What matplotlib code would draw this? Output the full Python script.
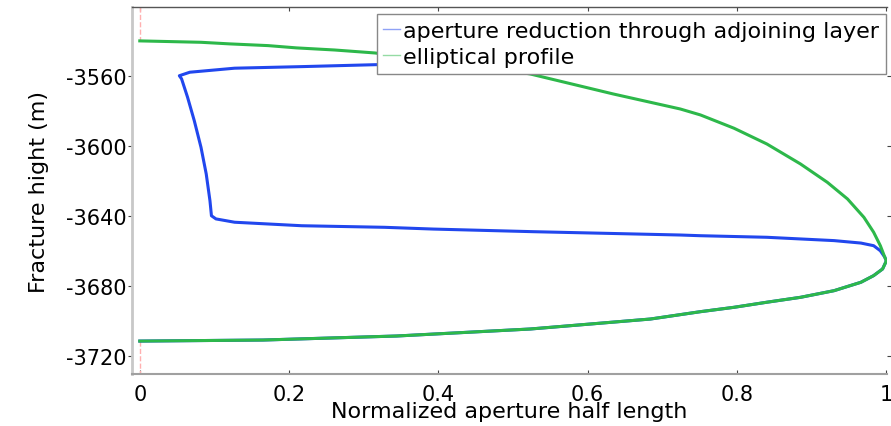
import matplotlib
matplotlib.use('Agg')
import matplotlib.pyplot as plt
from matplotlib.ticker import FixedLocator, FixedFormatter

plt.rcParams['font.family'] = 'DejaVu Sans'
plt.rcParams['axes.unicode_minus'] = False

# elliptical profile: half length vs depth
ell_x = [0.0, 0.082, 0.120, 0.172, 0.210, 0.261, 0.315, 0.375, 0.442, 0.523,
         0.634, 0.724, 0.751, 0.796, 0.840, 0.885, 0.921, 0.948, 0.970, 0.983,
         0.992, 0.998, 1.0,
         0.995, 0.983, 0.966, 0.930, 0.885, 0.840, 0.796, 0.751, 0.684, 0.523,
         0.344, 0.165, 0.0]
ell_y = [-3539.8, -3540.6, -3541.5, -3542.5, -3543.8, -3545.0, -3546.7, -3550.1, -3553.0, -3558.7,
         -3570.1, -3578.7, -3582.1, -3589.7, -3598.7, -3610.1, -3620.6, -3630.1, -3640.6, -3649.1,
         -3656.8, -3663.4, -3665.5,
         -3670.1, -3673.9, -3677.7, -3682.5, -3686.3, -3689.1, -3692.0, -3694.5, -3698.7, -3704.4,
         -3708.4, -3710.7, -3711.3]

# aperture reduction through adjoining layer (upper start hidden under the legend)
red_x = [0.600, 0.315, 0.217, 0.127, 0.067, 0.053, 0.056, 0.064, 0.073, 0.082,
         0.089, 0.094, 0.096, 0.102, 0.127, 0.217, 0.328, 0.393, 0.527, 0.724,
         0.751, 0.840, 0.930, 0.966, 0.983, 0.992, 0.998, 1.0,
         0.995, 0.983, 0.966, 0.930, 0.885, 0.840, 0.796, 0.751, 0.684, 0.523,
         0.344, 0.165, 0.0]
red_y = [-3551.8, -3553.4, -3554.5, -3555.4, -3557.7, -3559.7, -3561.5, -3572.0, -3585.4, -3600.6,
         -3615.8, -3631.1, -3639.7, -3641.5, -3643.4, -3645.4, -3646.3, -3647.3, -3648.8, -3650.7,
         -3651.1, -3652.0, -3653.9, -3655.3, -3656.8, -3659.7, -3663.4, -3665.5,
         -3670.1, -3673.9, -3677.7, -3682.5, -3686.3, -3689.1, -3692.0, -3694.5, -3698.7, -3704.4,
         -3708.4, -3710.7, -3711.3]

# zero aperture outside the fracture
zero_top_y = [-3520.6, -3539.8]
zero_bot_y = [-3711.3, -3730.1]

yticks = [-3560, -3600, -3640, -3680, -3720]
xticks = [0, 0.2, 0.4, 0.6, 0.8, 1.0]
xticklabels = ['0', '0.2', '0.4', '0.6', '0.8', '1']

fig = plt.figure(figsize=(8.91, 4.27), dpi=100)
ax = fig.add_axes([0.148, 0.1218, 0.848, 0.8588])

ax.plot([0, 0], zero_top_y, '--', color='#ffb0b0', lw=1.0)
ax.plot([0, 0], zero_bot_y, '--', color='#ffb0b0', lw=1.0)
ax.plot(red_x, red_y, color='#2147ee', lw=2.2, solid_joinstyle='round',
        label='aperture reduction through adjoining layer')
ax.plot(ell_x, ell_y, color='#2db84a', lw=2.2, solid_joinstyle='round',
        label='elliptical profile')

ax.set_xlim(-0.0106, 1.0015)
ax.set_ylim(-3730.1, -3520.6)
ax.xaxis.set_major_locator(FixedLocator(xticks))
ax.xaxis.set_major_formatter(FixedFormatter(xticklabels))
ax.yaxis.set_major_locator(FixedLocator(yticks))

ax.tick_params(axis='x', direction='in', length=3, width=0.8, top=True,
               labelsize=15, pad=7, color='#444444', labelcolor='black')
ax.tick_params(axis='y', direction='out', length=3, width=0.8, right=True,
               labelsize=15, pad=1, color='#444444', labelcolor='black')

ax.spines['left'].set_color('#c8c8c8')
ax.spines['left'].set_linewidth(2)
ax.spines['bottom'].set_color('#a0a0a0')
ax.spines['bottom'].set_linewidth(1.5)
ax.spines['top'].set_color('#555555')
ax.spines['top'].set_linewidth(1.0)
ax.spines['right'].set_visible(False)

ax.set_xlabel('Normalized aperture half length', fontsize=16, labelpad=-2)
ax.set_ylabel('Fracture hight (m)', fontsize=16, labelpad=12)

leg_handles, leg_labels = ax.get_legend_handles_labels()
leg = ax.legend(leg_handles, leg_labels, loc='upper right', bbox_to_anchor=(0.998, 0.982),
                prop={'size': 16}, frameon=True, fancybox=False, framealpha=1,
                edgecolor='#888888', handlelength=0.75, handletextpad=0.15,
                borderpad=0.3, labelspacing=0.3, borderaxespad=0.0)
leg.set_zorder(10)
leg.get_frame().set_linewidth(1.0)
for line in leg.get_lines():
    line.set_linewidth(1.0)
    line.set_alpha(0.5)

fig.savefig('out.png', dpi=100)
